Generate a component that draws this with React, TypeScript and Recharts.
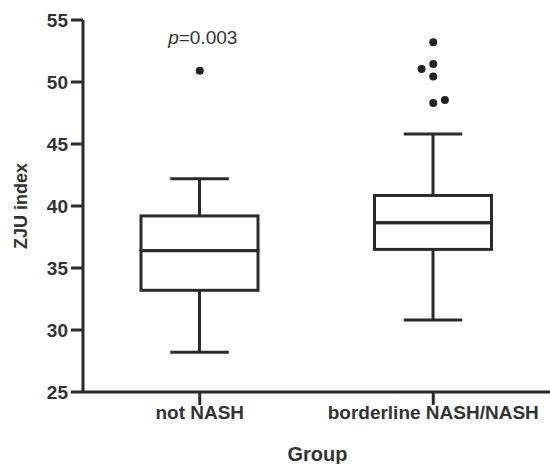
import React from "react";
import {
  ComposedChart,
  Bar,
  Scatter,
  XAxis,
  YAxis,
  ReferenceDot,
} from "recharts";

const groups = ["not NASH", "borderline NASH/NASH"];
const mins = [28.2, 30.8];
const q1s = [33.2, 36.5];
const medians = [36.4, 38.65];
const q3s = [39.2, 40.85];
const maxs = [42.2, 45.8];

// outliers: group index (+ small jitter), value
const outlierX = [0, 1, 1, 0.95, 1, 1, 1.05];
const outlierY = [50.9, 53.2, 51.45, 51.05, 50.45, 48.3, 48.55];

const yTicks = [25, 30, 35, 40, 45, 50, 55];

const INK = "#2b2b2b";
const TEXT = "#333";
const FONT = "Arial, 'Liberation Sans', Helvetica, sans-serif";

const data = groups.map((g, i) => ({
  group: g,
  base: mins[i],
  lowWhisker: q1s[i] - mins[i],
  lowBox: medians[i] - q1s[i],
  highBox: q3s[i] - medians[i],
  highWhisker: maxs[i] - q3s[i],
}));

const outliers = outlierX.map((x, i) => ({ x, y: outlierY[i] }));

const BoxPart = (props: any) => {
  const { x, y, width, height } = props;
  return (
    <rect x={x} y={y} width={width} height={height} fill="none" stroke={INK} strokeWidth={3} />
  );
};

const LowerWhisker = (props: any) => {
  const { x, y, width, height } = props;
  const cx = x + width / 2;
  return (
    <g stroke={INK} strokeWidth={3}>
      <line x1={cx} x2={cx} y1={y} y2={y + height} />
      <line x1={cx - width / 4} x2={cx + width / 4} y1={y + height} y2={y + height} />
    </g>
  );
};

const UpperWhisker = (props: any) => {
  const { x, y, width, height } = props;
  const cx = x + width / 2;
  return (
    <g stroke={INK} strokeWidth={3}>
      <line x1={cx} x2={cx} y1={y} y2={y + height} />
      <line x1={cx - width / 4} x2={cx + width / 4} y1={y} y2={y} />
    </g>
  );
};

export default function App() {
  return (
    <div style={{ position: "absolute", left: 0, top: 0, background: "#fff" }}>
      <ComposedChart
        width={550}
        height={464}
        data={data}
        margin={{ top: 20, right: 0, bottom: 0, left: 0 }}
      >
        <XAxis
          dataKey="group"
          height={72}
          axisLine={{ stroke: INK, strokeWidth: 3 }}
          tickLine={{ stroke: INK, strokeWidth: 3 }}
          tickSize={13}
          tickMargin={1}
          tick={{ fontSize: 19, fontWeight: "bold", fill: TEXT, fontFamily: FONT }}
          label={{
            content: (p: any) => {
              const vb = p.viewBox;
              return (
                <text
                  x={vb.x + vb.width / 2 + 1}
                  y={vb.y + 69}
                  textAnchor="middle"
                  fontSize={20}
                  fontWeight="bold"
                  fill={TEXT}
                  fontFamily={FONT}
                >
                  Group
                </text>
              );
            },
          }}
        />
        <XAxis xAxisId="num" type="number" dataKey="x" domain={[-0.5, 1.5]} hide />
        <YAxis
          type="number"
          domain={[25, 55]}
          ticks={yTicks}
          allowDataOverflow
          width={83}
          axisLine={{ stroke: INK, strokeWidth: 3 }}
          tickLine={{ stroke: INK, strokeWidth: 3 }}
          tickSize={12}
          tickMargin={3}
          tick={{ fontSize: 19, fontWeight: "bold", fill: TEXT, fontFamily: FONT }}
          label={{
            content: (p: any) => {
              const vb = p.viewBox;
              const cx = vb.x + 21;
              const cy = vb.y + vb.height / 2;
              return (
                <text
                  x={cx}
                  y={cy}
                  transform={`rotate(-90, ${cx}, ${cy})`}
                  textAnchor="middle"
                  dominantBaseline="central"
                  fontSize={18}
                  fontWeight="bold"
                  fill={TEXT}
                  fontFamily={FONT}
                >
                  ZJU index
                </text>
              );
            },
          }}
        />
        <Bar dataKey="base" stackId="box" barSize={117} fill="none" shape={() => null} isAnimationActive={false} />
        <Bar dataKey="lowWhisker" stackId="box" barSize={117} shape={LowerWhisker} isAnimationActive={false} />
        <Bar dataKey="lowBox" stackId="box" barSize={117} shape={BoxPart} isAnimationActive={false} />
        <Bar dataKey="highBox" stackId="box" barSize={117} shape={BoxPart} isAnimationActive={false} />
        <Bar dataKey="highWhisker" stackId="box" barSize={117} shape={UpperWhisker} isAnimationActive={false} />
        <Scatter
          xAxisId="num"
          data={outliers}
          dataKey="y"
          fill="#222"
          isAnimationActive={false}
          shape={(p: any) => <circle cx={p.cx} cy={p.cy} r={4} fill="#222" />}
        />
        <ReferenceDot
          xAxisId="num"
          x={0}
          y={53.6}
          r={0}
          fill="none"
          stroke="none"
          label={{
            content: (p: any) => {
              const vb = p.viewBox;
              return (
                <text
                  x={vb.x + 3}
                  y={vb.y}
                  textAnchor="middle"
                  dominantBaseline="central"
                  fontSize={19}
                  fill={TEXT}
                  fontFamily={FONT}
                >
                  <tspan fontStyle="italic">p</tspan>=0.003
                </text>
              );
            },
          }}
        />
      </ComposedChart>
    </div>
  );
}
